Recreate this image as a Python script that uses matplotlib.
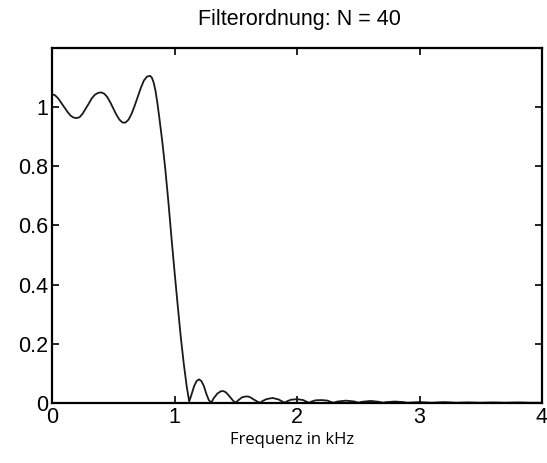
import numpy as np
import matplotlib
matplotlib.use('Agg')
import matplotlib.pyplot as plt

# Frequenz in kHz / Betrag
freq_pass = [0.0, 0.025, 0.05, 0.075, 0.1, 0.125, 0.15, 0.175, 0.2, 0.225,
             0.25, 0.275, 0.3, 0.325, 0.35, 0.375, 0.4, 0.425, 0.45, 0.475,
             0.5, 0.525, 0.55, 0.575, 0.6, 0.625, 0.65, 0.675, 0.7, 0.725,
             0.75, 0.775, 0.8, 0.815, 0.83, 0.845, 0.86, 0.875, 0.9, 0.925,
             0.95, 0.975, 1.0, 1.025, 1.05, 1.075, 1.1, 1.12]
mag_pass = [1.044, 1.040, 1.030, 1.015, 1.000, 0.985, 0.972, 0.965, 0.963, 0.966,
            0.978, 0.995, 1.012, 1.030, 1.042, 1.048, 1.050, 1.046, 1.035, 1.017,
            0.996, 0.975, 0.958, 0.948, 0.948, 0.958, 0.978, 1.005, 1.035, 1.065,
            1.090, 1.103, 1.106, 1.100, 1.083, 1.055, 1.015, 0.968, 0.885, 0.790,
            0.680, 0.560, 0.445, 0.335, 0.228, 0.135, 0.055, 0.005]

freq_stop = [1.14, 1.16, 1.18, 1.2, 1.22, 1.24, 1.26, 1.28, 1.30,
             1.32, 1.35, 1.38, 1.40, 1.42, 1.45, 1.48, 1.50,
             1.52, 1.55, 1.58, 1.60, 1.62, 1.65, 1.68, 1.70,
             1.72, 1.75, 1.80, 1.85, 1.88, 1.90,
             1.92, 1.95, 2.00, 2.05, 2.08, 2.10,
             2.12, 2.15, 2.20, 2.25, 2.28, 2.30,
             2.33, 2.40, 2.47, 2.50, 2.53, 2.60, 2.67, 2.70,
             2.73, 2.80, 2.87, 2.90, 3.0, 3.1, 3.2, 3.3, 3.4,
             3.5, 3.6, 3.7, 3.8, 3.9, 4.0]
mag_stop = [0.030, 0.057, 0.074, 0.080, 0.074, 0.057, 0.031, 0.010, 0.001,
            0.016, 0.032, 0.040, 0.040, 0.036, 0.022, 0.007, 0.001,
            0.009, 0.019, 0.022, 0.022, 0.019, 0.011, 0.004, 0.001,
            0.007, 0.013, 0.017, 0.012, 0.005, 0.001,
            0.006, 0.011, 0.013, 0.010, 0.004, 0.001,
            0.005, 0.009, 0.010, 0.008, 0.003, 0.001,
            0.005, 0.008, 0.005, 0.001, 0.004, 0.007, 0.004, 0.001,
            0.003, 0.005, 0.003, 0.001, 0.003, 0.001, 0.003, 0.001, 0.002,
            0.001, 0.002, 0.001, 0.002, 0.001, 0.001]

freq = np.array(freq_pass + freq_stop)
mag = np.array(mag_pass + mag_stop)

plt.rcParams['font.family'] = ['Liberation Sans', 'DejaVu Sans']

fig = plt.figure(figsize=(5.47, 4.63), dpi=100)
ax = fig.add_axes([52 / 547, 1 - 403 / 463, 490 / 547, 355 / 463])

ax.plot(freq, mag, color='#1a1a1a', linewidth=1.3)

ax.set_xlim(0, 4)
ax.set_ylim(0, 1.2)
ax.set_xticks([0, 1, 2, 3, 4])
ax.set_yticks([0, 0.2, 0.4, 0.6, 0.8, 1])
ax.set_yticklabels(['0', '0.2', '0.4', '0.6', '0.8', '1'])
ax.tick_params(direction='in', length=5, width=1.2, labelsize=15.5,
               top=True, right=True, pad=3, colors='black')
for s in ax.spines.values():
    s.set_linewidth(1.6)

fig.text(299 / 547, 1 - 19 / 463, 'Filterordnung: N = 40', ha='center', va='center',
         fontsize=15.5)
fig.text(292 / 547, 1 - 440 / 463, 'Frequenz in kHz', ha='center', va='center',
         fontsize=12, family=['Open Sans', 'DejaVu Sans'])

fig.savefig('out.png', dpi=100)
